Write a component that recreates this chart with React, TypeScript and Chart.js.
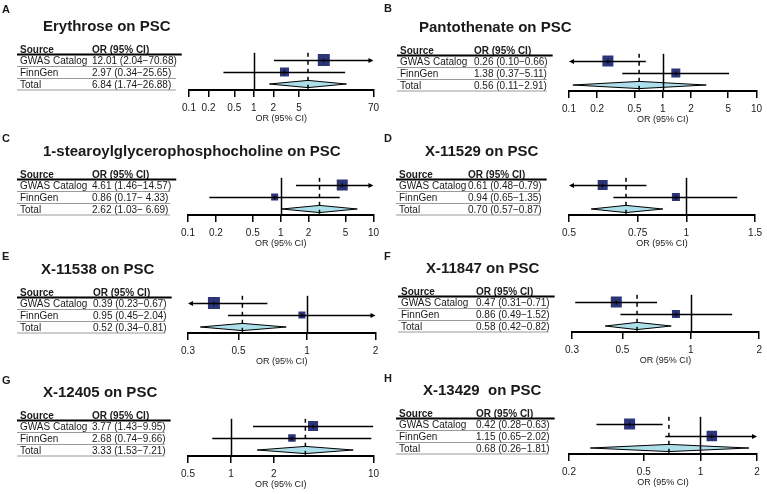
import { useEffect, useRef } from "react";
import { Chart, registerables } from "chart.js";

Chart.register(...registerables);

const FONT = '"Liberation Sans", Arial, Helvetica, sans-serif';
const TEXT = "#1a1a1a";
const BOX = "#2d3579";
const DIAMOND = "#acdfe9";

// ---- data ----
const panelLetters = ["A", "B", "C", "D", "E", "F", "G", "H"];
const exposures = [
  "Erythrose",
  "Pantothenate",
  "1-stearoylglycerophosphocholine",
  "X-11529",
  "X-11538",
  "X-11847",
  "X-12405",
  "X-13429 ",
];
const outcome = "PSC";
const sources = ["GWAS Catalog", "FinnGen", "Total"];

const oddsRatios = [
  [12.01, 2.97, 6.84],
  [0.26, 1.38, 0.56],
  [4.61, 0.86, 2.62],
  [0.61, 0.94, 0.7],
  [0.39, 0.95, 0.52],
  [0.47, 0.86, 0.58],
  [3.77, 2.68, 3.33],
  [0.42, 1.15, 0.68],
];
const lowerCI = [
  [2.04, 0.34, 1.74],
  [0.1, 0.37, 0.11],
  [1.46, 0.17, 1.03],
  [0.48, 0.65, 0.57],
  [0.23, 0.45, 0.34],
  [0.31, 0.49, 0.42],
  [1.43, 0.74, 1.53],
  [0.28, 0.65, 0.26],
];
const upperCI = [
  [70.68, 25.65, 26.88],
  [0.66, 5.11, 2.91],
  [14.57, 4.33, 6.69],
  [0.79, 1.35, 0.87],
  [0.67, 2.04, 0.81],
  [0.71, 1.52, 0.82],
  [9.95, 9.66, 7.21],
  [0.63, 2.02, 1.81],
];
const axisTicks = [
  [0.1, 0.2, 0.5, 1, 2, 5, 70],
  [0.1, 0.2, 0.5, 1, 2, 5, 10],
  [0.1, 0.2, 0.5, 1, 2, 5, 10],
  [0.5, 0.75, 1, 1.5],
  [0.3, 0.5, 1, 2],
  [0.3, 0.5, 1, 2],
  [0.5, 1, 2, 10],
  [0.2, 0.5, 1, 2],
];

// ---- panel geometry and styling ----
const PANEL_H = 124;
const panelFrames = [
  { left: 0, top: 0, width: 384, plotLeft: 189, plotRight: 378, letterX: 2, letterY: 13, titleX: 43, textX: 20, orX: 92 },
  { left: 384, top: 1, width: 383, plotLeft: 185, plotRight: 373, letterX: 0, letterY: 11, titleX: 35, textX: 16, orX: 90 },
  { left: 0, top: 125, width: 384, plotLeft: 188, plotRight: 376, letterX: 2, letterY: 17, titleX: 43, textX: 20, orX: 92 },
  { left: 384, top: 125, width: 383, plotLeft: 185, plotRight: 373, letterX: 0, letterY: 17, titleX: 41, textX: 15, orX: 84 },
  { left: 0, top: 243, width: 384, plotLeft: 188, plotRight: 376, letterX: 2, letterY: 17, titleX: 41, textX: 20, orX: 93 },
  { left: 384, top: 242, width: 383, plotLeft: 188, plotRight: 377, letterX: 0, letterY: 18, titleX: 42, textX: 17, orX: 92 },
  { left: 0, top: 366, width: 384, plotLeft: 188, plotRight: 376, letterX: 2, letterY: 18, titleX: 43, textX: 20, orX: 92 },
  { left: 384, top: 364, width: 383, plotLeft: 185, plotRight: 373, letterX: 0, letterY: 18, titleX: 39, textX: 15, orX: 92 },
];
// side length (px) of the study boxes
const boxSides = [
  [12, 9],
  [11, 9],
  [11, 7],
  [10, 8],
  [12, 7],
  [11, 8],
  [10, 7.5],
  [11, 10.5],
];

function ciLabels(p: number): string[] {
  const hi = upperCI[p].map((v) => v.toFixed(2));
  const w = Math.max(...hi.map((s) => s.length));
  return oddsRatios[p].map(
    (v, i) => `${v.toFixed(2)} (${lowerCI[p][i].toFixed(2)}\u2212${hi[i].padStart(w, " ")})`
  );
}

function makeForestPlugin(p: number) {
  return {
    id: "forest" + p,
    beforeDatasetsDraw(chart: any) {
      const { ctx, chartArea } = chart;
      const x = chart.scales.x;
      const y = chart.scales.y;
      ctx.save();
      // pooled estimate diamond
      const yc = y.getPixelForValue(2);
      const hh = Math.abs(y.getPixelForValue(2.3) - yc);
      const xl = x.getPixelForValue(lowerCI[p][2]);
      const xm = x.getPixelForValue(oddsRatios[p][2]);
      const xr = x.getPixelForValue(upperCI[p][2]);
      ctx.beginPath();
      ctx.moveTo(xl, yc);
      ctx.lineTo(xm, yc - hh);
      ctx.lineTo(xr, yc);
      ctx.lineTo(xm, yc + hh);
      ctx.closePath();
      ctx.fillStyle = DIAMOND;
      ctx.fill();
      ctx.strokeStyle = "#000";
      ctx.lineWidth = 1;
      ctx.stroke();

      // null line and pooled estimate line
      const yTop = y.getPixelForValue(-0.6);
      const yBot = chartArea.bottom;
      ctx.lineWidth = 1.5;
      ctx.beginPath();
      const x1 = Math.round(x.getPixelForValue(1)) + 0.5;
      ctx.moveTo(x1, yTop);
      ctx.lineTo(x1, yBot);
      ctx.stroke();
      ctx.setLineDash([4, 4]);
      ctx.beginPath();
      ctx.moveTo(xm, yTop);
      ctx.lineTo(xm, yBot);
      ctx.stroke();
      ctx.restore();
    },
    afterDatasetsDraw(chart: any) {
      const { ctx, chartArea } = chart;
      const x = chart.scales.x;
      const y = chart.scales.y;
      ctx.save();
      ctx.strokeStyle = "#000";
      ctx.fillStyle = "#000";
      ctx.lineWidth = 1.5;
      for (let i = 0; i < 2; i++) {
        const yc = Math.round(y.getPixelForValue(i)) + 0.5;
        const lo = lowerCI[p][i];
        const hi = upperCI[p][i];
        const arrowL = lo <= x.min;
        const arrowR = hi > x.max;
        const xl = arrowL ? chartArea.left : x.getPixelForValue(lo);
        const xr = arrowR ? chartArea.right : x.getPixelForValue(hi);
        ctx.beginPath();
        ctx.moveTo(xl + (arrowL ? 3 : 0), yc);
        ctx.lineTo(xr - (arrowR ? 3 : 0), yc);
        ctx.stroke();
        if (arrowL) {
          ctx.beginPath();
          ctx.moveTo(xl, yc);
          ctx.lineTo(xl + 5, yc - 2.5);
          ctx.lineTo(xl + 5, yc + 2.5);
          ctx.closePath();
          ctx.fill();
        }
        if (arrowR) {
          ctx.beginPath();
          ctx.moveTo(xr, yc);
          ctx.lineTo(xr - 5, yc - 2.5);
          ctx.lineTo(xr - 5, yc + 2.5);
          ctx.closePath();
          ctx.fill();
        }
        // small mark at the point estimate
        const xe = x.getPixelForValue(oddsRatios[p][i]);
        ctx.lineWidth = 1;
        ctx.beginPath();
        ctx.moveTo(xe, yc - 2);
        ctx.lineTo(xe, yc + 2);
        ctx.stroke();
        ctx.lineWidth = 1.5;
      }
      ctx.restore();
    },
    afterDraw(chart: any) {
      const ctx = chart.ctx as CanvasRenderingContext2D;
      const f = panelFrames[p];
      ctx.save();
      ctx.fillStyle = TEXT;
      ctx.textAlign = "left";
      ctx.textBaseline = "alphabetic";
      ctx.font = `bold 11px ${FONT}`;
      ctx.fillText(panelLetters[p], f.letterX, f.letterY);
      ctx.font = `bold 15px ${FONT}`;
      ctx.fillText(`${exposures[p]} on ${outcome}`, f.titleX, 31);

      ctx.font = `bold 10px ${FONT}`;
      ctx.fillText("Source", f.textX, 52.5);
      ctx.fillText("OR (95% CI)", f.orX, 52.5);

      ctx.font = `10px ${FONT}`;
      const labels = ciLabels(p);
      const widest = Math.max(...labels.map((s) => ctx.measureText(s).width));
      const right = f.orX + widest;
      const baselines = [64, 76, 88];
      sources.forEach((s, i) => {
        ctx.fillText(s, f.textX, baselines[i]);
        ctx.fillText(labels[i], f.orX, baselines[i]);
      });

      ctx.strokeStyle = "#000";
      ctx.lineWidth = 2;
      ctx.beginPath();
      ctx.moveTo(f.textX - 3, 54.5);
      ctx.lineTo(right + 5, 54.5);
      ctx.stroke();
      ctx.strokeStyle = "#9a9a9a";
      ctx.lineWidth = 1;
      [66.5, 78.5, 90].forEach((yy) => {
        ctx.beginPath();
        ctx.moveTo(f.textX - 3, yy);
        ctx.lineTo(right - 1, yy);
        ctx.stroke();
      });
      ctx.restore();
    },
  };
}

function ForestPanel({ p }: { p: number }) {
  const ref = useRef<HTMLCanvasElement | null>(null);
  const f = panelFrames[p];

  useEffect(() => {
    const canvas = ref.current;
    if (!canvas) return;
    const ticks = axisTicks[p];
    const chart = new Chart(canvas, {
      type: "scatter",
      data: {
        datasets: [
          {
            data: [0, 1].map((i) => ({ x: oddsRatios[p][i], y: i })),
            pointStyle: "rect",
            pointRadius: boxSides[p].map((s) => s / Math.SQRT2),
            backgroundColor: BOX,
            borderColor: BOX,
            borderWidth: 0,
          },
        ],
      },
      options: {
        responsive: false,
        animation: false,
        events: [],
        layout: {
          padding: { left: f.plotLeft, right: f.width - f.plotRight, top: 48, bottom: 0 },
        },
        plugins: {
          legend: { display: false },
          tooltip: { enabled: false },
        },
        scales: {
          x: {
            type: "logarithmic",
            min: ticks[0],
            max: ticks[ticks.length - 1],
            afterBuildTicks: (scale: any) => {
              scale.ticks = ticks.map((v) => ({ value: v }));
            },
            afterFit: (scale: any) => {
              scale.height = PANEL_H - 90;
            },
            grid: {
              drawOnChartArea: false,
              drawTicks: true,
              tickLength: 7,
              color: "#000",
              lineWidth: 1.5,
            },
            border: { display: true, color: "#000", width: 2 },
            ticks: {
              autoSkip: false,
              maxRotation: 0,
              padding: 5,
              color: TEXT,
              font: { family: FONT, size: 10 },
              callback: (v: any) => String(v),
            },
            title: {
              display: true,
              text: "OR (95% CI)",
              color: TEXT,
              font: { family: FONT, size: 9 },
              padding: 0,
            },
          },
          y: {
            type: "linear",
            display: false,
            min: -1,
            max: 2.5,
            reverse: true,
          },
        },
      },
      plugins: [makeForestPlugin(p)],
    } as any);
    return () => chart.destroy();
  }, [p]);

  return (
    <canvas
      ref={ref}
      width={f.width}
      height={PANEL_H}
      style={{ position: "absolute", left: f.left, top: f.top, width: f.width, height: PANEL_H }}
    />
  );
}

export default function App() {
  return (
    <div
      style={{
        position: "fixed",
        left: 0,
        top: 0,
        width: 767,
        height: 494,
        background: "#fff",
        overflow: "hidden",
      }}
    >
      {panelLetters.map((_, p) => (
        <ForestPanel key={p} p={p} />
      ))}
    </div>
  );
}
